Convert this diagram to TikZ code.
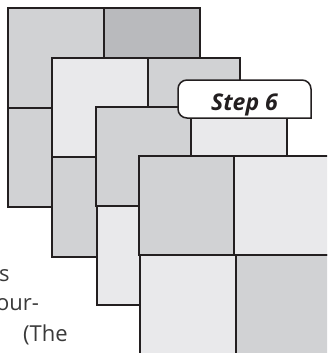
\documentclass[tikz,border=0pt]{standalone}
\usepackage{fontspec}
\setmainfont{Open Sans}
\definecolor{ink}{HTML}{231F20}
\definecolor{greyA}{HTML}{D1D2D4}
\definecolor{greyB}{HTML}{B9BABD}
\definecolor{greyC}{HTML}{E9E9EB}
\definecolor{txt}{HTML}{3A3A3A}
\tikzset{
  sq/.style={draw=ink, line width=1.5pt},
  body/.style={inner sep=0pt, font=\fontsize{22}{26}\selectfont, text=txt, anchor=base west},
}
\begin{document}
\begin{tikzpicture}[x=1pt, y=-1pt]
  \useasboundingbox (0,0) rectangle (327,353);
  \clip (0,0) rectangle (327,353);
  % text behind the stack
  \node[body] (t1) at (-1,281) {s};
  \node[body] (t2) at (-4,310) {our-};
  \node[body] (t3) at (23,341) {(The};

  % panel 1
  \draw[sq, fill=greyA] (8,8) rectangle (104,108);
  \draw[sq, fill=greyB] (104,8) rectangle (200,108);
  \draw[sq, fill=greyA] (8,108) rectangle (104,207);
  \draw[sq, fill=greyA] (104,108) rectangle (200,207);

  % panel 2
  \draw[sq, fill=greyC] (52,58) rectangle (148,157);
  \draw[sq, fill=greyA] (148,58) rectangle (240,157);
  \draw[sq, fill=greyA] (52,157) rectangle (148,257);
  \draw[sq, fill=greyA] (148,157) rectangle (240,257);

  % panel 3
  \draw[sq, fill=greyA] (96,107) rectangle (191,206);
  \draw[sq, fill=greyC] (191,107) rectangle (287,206);
  \draw[sq, fill=greyC] (97,206) rectangle (191,305);
  \draw[sq, fill=greyC] (191,206) rectangle (287,305);

  % tab
  \draw[sq, fill=white] (311,100) [rounded corners=9pt] -- (311,80) -- (178,80)
    -- (178,118) -- (240,118) [sharp corners] -- (311,118) -- cycle;
  \node[inner sep=0pt, anchor=base, font=\fontsize{23}{27}\selectfont\bfseries\itshape, text=ink]
    (step) at (244.5,110) {Step 6};

  % panel 4
  \draw[sq, fill=greyA] (139,156) rectangle (234,255);
  \draw[sq, fill=greyC] (234,156) rectangle (335,255);
  \draw[sq, fill=greyC] (140,255) rectangle (236,360);
  \draw[sq, fill=greyA] (236,255) rectangle (335,360);
\end{tikzpicture}
\end{document}
